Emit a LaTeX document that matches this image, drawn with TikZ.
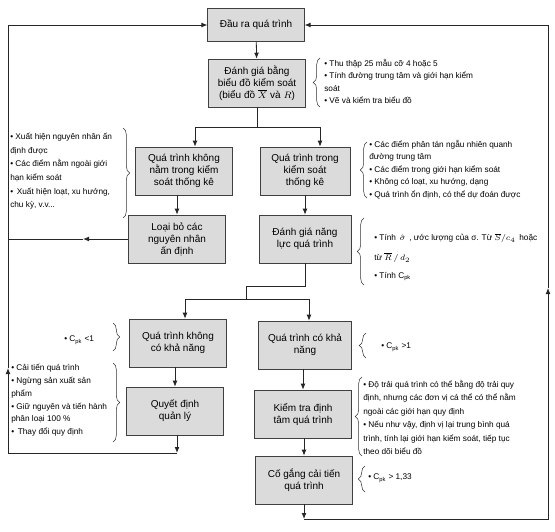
\documentclass[tikz,border=0pt]{standalone}
\usepackage{fontspec}
\setmainfont{Liberation Sans}
\usepackage{amsmath}
\usepackage{amssymb}
\usetikzlibrary{arrows.meta,decorations.pathreplacing}
\newcommand{\boxfont}{\fontsize{7.5}{9}\selectfont}
\newcommand{\notefont}{\fontsize{6.2}{9.3}\selectfont}
\newcommand{\Cpk}{C\textsubscript{pk}}

\begin{document}
\begin{tikzpicture}[x=0.75pt,y=0.75pt,yscale=-1,xscale=1,
  box/.style={draw=black!75, fill=black!14, align=center, font=\boxfont, inner sep=0.75pt, minimum width=72.5pt, minimum height=36pt},
  note/.style={anchor=north west, inner sep=0.75pt, align=left, font=\notefont},
  brc/.style={decorate, decoration={brace, amplitude=5pt}, black!80},
  tip/.style={-{Latex[length=4.5pt,width=3.6pt]}}]
\useasboundingbox (0,0) rectangle (555,531);

% boxes
\node [box, minimum height=25pt] (out) at (256,25) {Đầu ra quá trình};
\node [box] (eval) at (257,83) {Đánh giá bằng\\ biểu đồ kiểm soát\\ (biểu đồ $\overline{X}$ và $R$)};
\node [box] (notin) at (184,171) {Quá trình không\\ nằm trong kiểm\\ soát thống kê};
\node [box, minimum width=67.5pt] (inctrl) at (305,171) {Quá trình trong\\ kiểm soát\\ thống kê};
\node [box] (remove) at (177,239) {Loại bỏ các\\ nguyên nhân\\ ấn định};
\node [box, minimum width=69pt] (capeval) at (305,239) {Đánh giá năng\\ lực quá trình};
\node [box] (notcap) at (178,343) {Quá trình không\\ có khả năng};
\node [box, minimum width=70pt] (cap) at (305,345) {Quá trình có khả\\ năng};
\node [box] (decide) at (175,411) {Quyết định\\ quản lý};
\node [box] (center) at (303,414) {Kiểm tra định\\ tâm quá trình};
\node [box] (improve) at (304,480) {Cố gắng cải tiến\\ quá trình};

% notes
\node [note] (n1) at (323,58) {• Thu thập 25 mẫu cỡ 4 hoặc 5\\ • Tính đường trung tâm và giới hạn kiểm\\ soát\\ • Vẽ và kiểm tra biểu đồ};
\node [note, font=\fontsize{6.2}{10.2}\selectfont] (n2) at (9,132) {• Xuất hiện nguyên nhân ấn\\ định được\\ • Các điểm nằm ngoài giới\\ hạn kiểm soát\\ •\, Xuất hiện loạt, xu hướng,\\ chu kỳ, v.v...};
\node [note] (n3) at (368,139) {• Các điểm phân tán ngẫu nhiên quanh\\ đường trung tâm\\ • Các điểm trong giới hạn kiểm soát\\ • Không có loạt, xu hướng, dạng\\ • Quá trình ổn định, có thể dự đoán được};
\node [note] (n4) at (373,232) {• Tính\, $\hat{\sigma}$\, , ước lượng của σ. Từ $\overline{S}/c_4$\, hoặc\\[5.5pt] từ $\overline{R}\,/\,d_2$\\[4pt] • Tính \Cpk};
\node [note, anchor=west] (n5) at (63,340) {• \Cpk\ <1};
\node [note, anchor=west] (n6) at (380,347) {• \Cpk\ >1};
\node [note, font=\fontsize{6.2}{9.6}\selectfont] (n7) at (10,363) {• Cải tiến quá trình\\ • Ngừng sản xuất sản\\ phẩm\\ • Giữ nguyên và tiến hành\\ phân loại 100 \%\\ •\, Thay đổi quy định};
\node [note, font=\fontsize{6.2}{10.1}\selectfont] (n8) at (362,379) {• Độ trải quá trình có thể bằng độ trải quy\\ định, nhưng các đơn vị cá thể có thể nằm\\ ngoài các giới hạn quy định\\ • Nếu như vậy, định vị lại trung bình quá\\ trình, tính lại giới hạn kiểm soát, tiếp tục\\ theo dõi biểu đồ};
\node [note, anchor=west] (n9) at (367,478) {• \Cpk\ > 1,33};

% braces
\draw [brc] (320,107) -- (320,58);
\draw [brc] (123,128) -- (123,218);
\draw [brc] (367,198) -- (367,142);
\draw [brc] (364,285) -- (364,218);
\draw [brc] (113,323) -- (113,351);
\draw [brc] (366,358) -- (366,333);
\draw [brc] (113,363) -- (113,442);
\draw [brc] (362,456) -- (362,377);
\draw [brc] (365,492) -- (365,466);

% connectors
\coordinate (s1) at (257,127);
\coordinate (s1l) at (195,127);
\coordinate (s1r) at (320,127);
\coordinate (s2a) at (305,286);
\coordinate (s2b) at (246,286);
\coordinate (s2c) at (246,299);
\coordinate (s2l) at (185,299);
\coordinate (s2r) at (309,299);
\coordinate (rmv) at (8,239);
\coordinate (rmid) at (83,239);
\coordinate (lb) at (177,453);
\coordinate (lbl) at (8,453);
\coordinate (lm) at (8,368);
\coordinate (ltl) at (8,25);
\coordinate (rb) at (304,519);
\coordinate (rbr) at (548,519);
\coordinate (rm) at (548,288);
\coordinate (rtr) at (548,25);

\begin{scope}[black!85, line width=0.6pt]
\draw [tip] (out) -- (eval);
\draw (eval) -- (s1);
\draw (s1l) -- (s1r);
\draw [tip] (s1l) -- (s1l |- notin.north);
\draw [tip] (s1r) -- (s1r |- inctrl.north);
\draw [tip] (notin.south -| remove.north) -- (remove.north);
\draw [tip] (inctrl) -- (capeval);
\draw [tip] (remove.west) -- (rmid);
\draw (rmid) -- (rmv);
\draw (capeval) -- (s2a) -- (s2b) -- (s2c);
\draw (s2l) -- (s2r);
\draw [tip] (s2l) -- (s2l |- notcap.north);
\draw [tip] (s2r) -- (s2r |- cap.north);
\draw [tip] (notcap.south -| decide.north) -- (decide.north);
\draw [tip] (cap.south -| center.north) -- (center.north);
\draw [tip] (center.south -| improve.north) -- (improve.north);
\draw [tip] (decide.south -| lb) -- (lb);
\draw [tip] (lb) -- (lbl) -- (lm);
\draw [tip] (lm) -- (ltl) -- (out.west);
\draw [tip] (improve.south -| rb) -- (rb);
\draw [tip] (rb) -- (rbr) -- (rm);
\draw [tip] (rm) -- (rtr) -- (out.east);
\end{scope}
\end{tikzpicture}
\end{document}
